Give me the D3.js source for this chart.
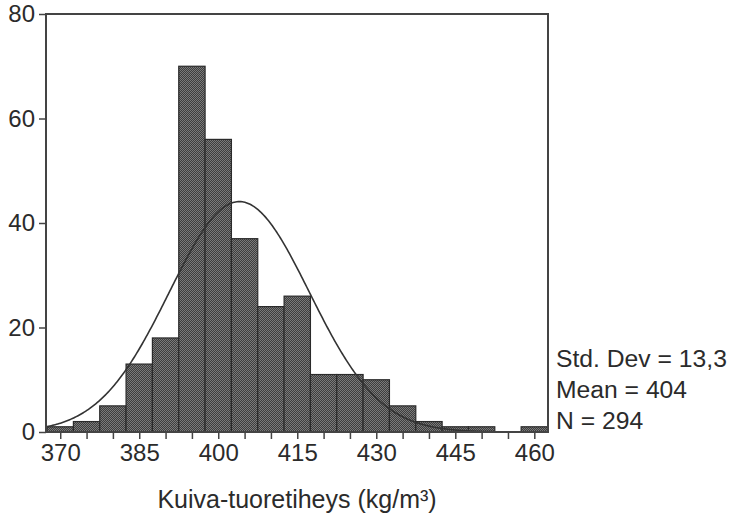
<!DOCTYPE html>
<html>
<head>
<meta charset="utf-8">
<script src="https://cdn.jsdelivr.net/npm/d3@7/dist/d3.min.js"></script>
<style>
  html, body { margin: 0; padding: 0; background: #fff; }
  svg { display: block; }
  text { font-family: "Liberation Sans", Arial, Helvetica, sans-serif; fill: #2b2b2b; }
</style>
</head>
<body>
<svg id="chart" width="730" height="521"></svg>
<script>
// Histogram bin centres (kg/m³), bin width 5
const binCenters = [370, 375, 380, 385, 390, 395, 400, 405, 410, 415, 420, 425, 430, 435, 440, 445, 450, 455, 460];
// Frequency per bin
const counts = [1, 2, 5, 13, 18, 70, 56, 37, 24, 26, 11, 11, 10, 5, 2, 1, 1, 0, 1];
// Axis tick labels
const xTickLabels = [370, 385, 400, 415, 430, 445, 460];
const yTickLabels = [0, 20, 40, 60, 80];
// Summary statistics
const statNames = ["Std. Dev", "Mean", "N"];
const statValues = ["13,3", "404", "294"];
const binWidth = 5;
const meanValue = 404;
const sdValue = 13.3;
const nValue = 294;

const svg = d3.select("#chart");
const frame = { left: 46, right: 548, top: 14, bottom: 432 };

const x = d3.scaleLinear().domain([367.3, 462.6]).range([frame.left, frame.right]);
const y = d3.scaleLinear().domain([0, 80]).range([frame.bottom, frame.top]);

// Dithered fill used by the bars
const defs = svg.append("defs");
const pat = defs.append("pattern")
  .attr("id", "dither").attr("patternUnits", "userSpaceOnUse")
  .attr("width", 2).attr("height", 2);
pat.append("rect").attr("width", 2).attr("height", 2).attr("fill", "#3e3e3e");
pat.append("rect").attr("x", 0).attr("y", 0).attr("width", 1).attr("height", 1).attr("fill", "#7a7a7a");
pat.append("rect").attr("x", 1).attr("y", 1).attr("width", 1).attr("height", 1).attr("fill", "#7a7a7a");

// Bars
svg.append("g").selectAll("rect")
  .data(binCenters.map((c, i) => ({ c, v: counts[i] })).filter(d => d.v > 0))
  .join("rect")
  .attr("x", d => x(d.c - binWidth / 2))
  .attr("width", d => x(d.c + binWidth / 2) - x(d.c - binWidth / 2))
  .attr("y", d => y(d.v))
  .attr("height", d => y(0) - y(d.v))
  .attr("fill", "url(#dither)")
  .attr("stroke", "#2a2a2a")
  .attr("stroke-width", 1.2);

// Fitted normal curve scaled to counts
const pdf = v => nValue * binWidth / (sdValue * Math.sqrt(2 * Math.PI)) *
  Math.exp(-0.5 * Math.pow((v - meanValue) / sdValue, 2));
const xs = d3.range(x.domain()[0], x.domain()[1] + 0.01, 0.25);
svg.append("path")
  .datum(xs)
  .attr("d", d3.line().x(v => x(v)).y(v => y(pdf(v))))
  .attr("fill", "none")
  .attr("stroke", "#333")
  .attr("stroke-width", 1.6);

// Frame
svg.append("rect")
  .attr("x", frame.left).attr("y", frame.top)
  .attr("width", frame.right - frame.left).attr("height", frame.bottom - frame.top)
  .attr("fill", "none").attr("stroke", "#444").attr("stroke-width", 2);

// Y axis
const yAxis = svg.append("g")
  .attr("transform", `translate(${frame.left},0)`)
  .call(d3.axisLeft(y).tickValues(yTickLabels).tickSize(7).tickPadding(4));
yAxis.select(".domain").remove();
yAxis.selectAll(".tick line").attr("stroke", "#444").attr("stroke-width", 1.5);
yAxis.selectAll(".tick text").attr("font-size", 24).attr("fill", "#2b2b2b")
  .attr("font-family", "Liberation Sans, Arial, sans-serif");

// X axis: minor ticks at every bin centre, labels every 15
const xAxis = svg.append("g")
  .attr("transform", `translate(0,${frame.bottom})`)
  .call(d3.axisBottom(x).tickValues(binCenters).tickSize(7).tickPadding(5)
    .tickFormat(d => xTickLabels.includes(d) ? d : ""));
xAxis.select(".domain").remove();
xAxis.selectAll(".tick line").attr("stroke", "#444").attr("stroke-width", 1.5);
xAxis.selectAll(".tick text").attr("font-size", 24).attr("fill", "#2b2b2b")
  .attr("font-family", "Liberation Sans, Arial, sans-serif");

// X axis title
svg.append("text")
  .attr("x", 297)
  .attr("y", 508)
  .attr("text-anchor", "middle")
  .attr("font-size", 25)
  .text("Kuiva-tuoretiheys (kg/m³)");

// Summary statistics
svg.append("g").selectAll("text")
  .data(statNames)
  .join("text")
  .attr("x", 556)
  .attr("y", (d, i) => 367 + i * 31)
  .attr("font-size", 24.7)
  .text((d, i) => `${d} = ${statValues[i]}`);
</script>
</body>
</html>
